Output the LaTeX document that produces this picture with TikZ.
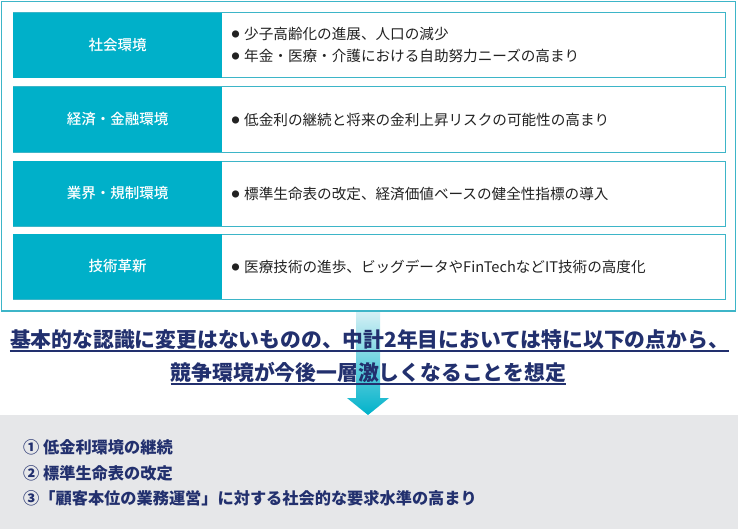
\documentclass[tikz,border=0pt]{standalone}
\usepackage{fontspec}
\setmainfont{Noto Sans CJK JP}
\newfontfamily\medfont{Noto Sans CJK JP Medium}
\definecolor{cy}{HTML}{00B0C9}
\definecolor{fr}{HTML}{3DB5C8}
\definecolor{navy}{HTML}{22306E}
\definecolor{gry}{HTML}{E6E7E9}
\definecolor{txt}{HTML}{222222}
\definecolor{arrtop}{HTML}{D4F0F5}
\definecolor{arrbot}{HTML}{00B2CA}
\tikzset{
  rowbox/.style={draw=fr, line width=1pt, fill=white},
  labbox/.style={fill=cy},
  lab/.style={text=white, font=\fontsize{14.5}{16}\selectfont\medfont, inner sep=0pt},
  item/.style={text=txt, font=\fontsize{14.6}{16}\selectfont, anchor=west, inner sep=0pt},
  bul/.style={text=txt, font=\fontsize{8}{8}\selectfont, inner sep=0pt},
  head/.style={text=navy, font=\fontsize{20.8}{24}\selectfont\bfseries, anchor=base, inner xsep=0pt, inner ysep=0pt},
  uline/.style={draw=navy, line width=1.3pt},
  pt/.style={text=navy, font=\fontsize{16.2}{18}\selectfont\bfseries, anchor=west, inner sep=0pt}
}
\begin{document}
\begin{tikzpicture}[x=1pt,y=-1pt]
\useasboundingbox (0,0) rectangle (738,532);
\fill[white] (0,0) rectangle (738,532);
% outer frame
\draw[fr, line width=1.5pt] (1.5,1.5) rectangle (735.5,311);
% rows
\foreach \t/\b in {13/78, 87/152, 161/226, 234/299}{
  \draw[rowbox] (13,\t) rectangle (725,\b);
  \fill[labbox] (13,\t) rectangle (222,\b);
}
\node[lab] (l1) at (117.5,45.5) {社会環境};
\node[lab] (l2) at (117.5,119.5) {経済・金融環境};
\node[lab] (l3) at (117.5,193.5) {業界・規制環境};
\node[lab] (l4) at (117.5,266.5) {技術革新};
\node[bul] (b1a) at (235.5,34) {●};
\node[item] (i1a) at (244,34) {少子高齢化の進展、人口の減少};
\node[bul] (b1b) at (235.5,56) {●};
\node[item] (i1b) at (244,56) {年金・医療・介護における自助努力ニーズの高まり};
\node[bul] (b2) at (235.5,120) {●};
\node[item] (i2) at (244,120) {低金利の継続と将来の金利上昇リスクの可能性の高まり};
\node[bul] (b3) at (235.5,194) {●};
\node[item] (i3) at (244,194) {標準生命表の改定、経済価値ベースの健全性指標の導入};
\node[bul] (b4) at (235.5,267) {●};
\node[item] (i4) at (244,267) {医療技術の進歩、ビッグデータやFinTechなどIT技術の高度化};
% grey band
\fill[gry] (0,415) rectangle (738,529);
% arrow
\shade[top color=arrtop, bottom color=arrbot] (356,312) -- (380,312) -- (380,398) -- (389,398) -- (368,415) -- (347,398) -- (356,398) -- cycle;
% heading
\node[head] (h1) at (369.5,347) {基本的な認識に変更はないものの、中計2年目においては特に以下の点から、};
\node[head] (h2) at (368.5,380) {競争環境が今後一層激しくなることを想定};
\draw[uline] ([yshift=-4pt]h1.base west) -- ([yshift=-4pt]h1.base east);
\draw[uline] ([yshift=-4pt]h2.base west) -- ([yshift=-4pt]h2.base east);
% points
\node[pt] (p1) at (23,447) {① 低金利環境の継続};
\node[pt] (p2) at (23,473) {② 標準生命表の改定};
\node[pt] (p3) at (23,498) {③「顧客本位の業務運営」に対する社会的な要求水準の高まり};
\end{tikzpicture}
\end{document}
